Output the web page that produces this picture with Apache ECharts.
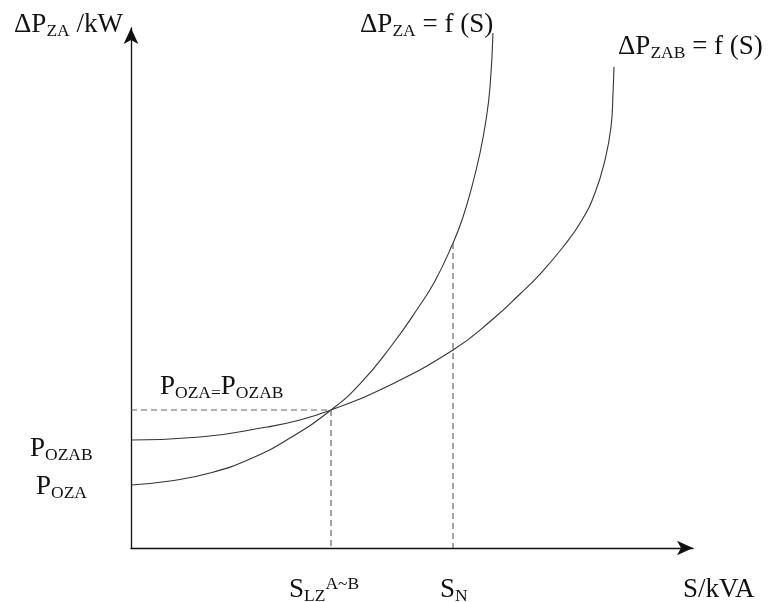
<!DOCTYPE html>
<html><head><meta charset="utf-8">
<script src="https://cdn.jsdelivr.net/npm/echarts@6/dist/echarts.min.js"></script>
<style>html,body{margin:0;padding:0;background:#fff}#c{width:770px;height:602px}</style>
</head><body><div id="c"></div>
<script>
// Curve ΔP_ZA = f(S)
const zaS  = [0, 6.94, 14.06, 21.17, 28.29, 35.59, 40.75, 46.44, 51.07, 54.09, 57.30, 58.90, 60.50, 62.10, 63.17, 63.88, 64.41];
const zaP  = [12.12, 12.88, 14.42, 17.12, 21.15, 26.54, 31.54, 39.04, 46.15, 51.35, 58.65, 63.08, 68.85, 75.96, 82.31, 88.65, 99.04];
// Curve ΔP_ZAB = f(S)
const zabS = [0, 12.28, 24.20, 30.07, 35.59, 44.66, 57.30, 64.41, 69.22, 72.78, 76.87, 80.25, 82.56, 84.34, 85.41, 85.77, 85.94];
const zabP = [20.77, 21.35, 23.27, 24.62, 26.54, 30.58, 38.08, 44.04, 48.85, 52.69, 57.88, 63.08, 68.27, 74.62, 80.96, 87.50, 92.50];
// Crossing point (S_LZ^{A~B}, P_OZA=P_OZAB) and rated point S_N on ΔP_ZA
const crossS = 35.59, crossP = 26.54;
const ratedS = 57.30, ratedP = 58.65;

const FONT = '"Liberation Serif", "Times New Roman", serif';
const MAIN = 27, SUB = 17.5;
const richSet = {
  s:   { fontSize: SUB, fontFamily: FONT, fill: '#111', verticalAlign: 'bottom', lineHeight: 9 },
  sup: { fontSize: SUB, fontFamily: FONT, fill: '#111', verticalAlign: 'top', lineHeight: 12 }
};
function txt(x, y, text) {
  return { type: 'text', x: x, y: y, silent: true,
    style: { text: text, fontSize: MAIN, fontFamily: FONT, fill: '#111', lineHeight: 30,
             align: 'left', verticalAlign: 'bottom', rich: richSet } };
}

const chart = echarts.init(document.getElementById('c'), null, { renderer: 'canvas' });
const zip = (a, b) => a.map((v, i) => [v, b[i]]);
const dashStyle = { color: '#666', width: 1.2, type: [6, 4] };
const axisCommon = {
  type: 'value', min: 0, max: 100,
  axisLine: { show: true, onZero: false, symbol: ['none', 'arrow'], symbolSize: [11, 16],
              lineStyle: { color: '#111', width: 1.3 } },
  axisTick: { show: false }, axisLabel: { show: false }, splitLine: { show: false }
};
const curveStyle = { color: '#333', width: 1.1 };

chart.setOption({
  backgroundColor: '#fff',
  animation: false,
  grid: { left: 131, right: 77, top: 28, bottom: 54 },
  xAxis: axisCommon,
  yAxis: axisCommon,
  series: [
    { type: 'line', data: zip(zaS, zaP), smooth: 0.5, showSymbol: false,
      clip: false, lineStyle: curveStyle },
    { type: 'line', data: zip(zabS, zabP), smooth: 0.5, showSymbol: false,
      clip: false, lineStyle: curveStyle },
    { type: 'line', data: [[0, crossP], [crossS, crossP], [crossS, 0]], showSymbol: false,
      lineStyle: dashStyle },
    { type: 'line', data: [[ratedS, ratedP], [ratedS, 0]], showSymbol: false,
      lineStyle: dashStyle }
  ],
  graphic: [
    txt(14, 40, 'ΔP{s|ZA} /kW'),
    txt(360, 40, 'ΔP{s|ZA} = f (S)'),
    txt(618, 62, 'ΔP{s|ZAB} = f (S)'),
    txt(160, 402, 'P{s|OZA=}P{s|OZAB}'),
    txt(30, 464, 'P{s|OZAB}'),
    txt(36, 502, 'P{s|OZA}'),
    txt(289, 605, 'S{s|LZ}{sup|A~B}'),
    txt(440, 605, 'S{s|N}'),
    txt(683, 605, 'S/kVA')
  ]
});
</script></body></html>
